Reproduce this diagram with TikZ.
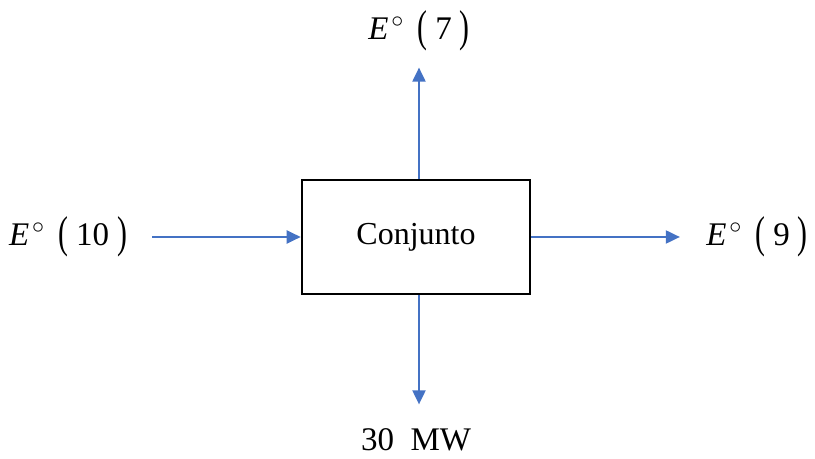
\documentclass[tikz,border=0pt]{standalone}
\usepackage{fontspec}
\setmainfont{Liberation Serif}
\usepackage{graphicx}
\usetikzlibrary{arrows.meta,positioning}
\definecolor{flowblue}{HTML}{4472C4}
\newcommand{\bpar}[1]{\raisebox{-1.2pt}{\scalebox{0.9}[1.35]{#1}}}
\newcommand{\Eo}[1]{\textit{E}\hspace{1.5pt}\raisebox{6pt}{\fontsize{13}{13}\selectfont$\circ$}\hspace{7pt}\bpar{(}\hspace{4pt}#1\hspace{4pt}\bpar{)}}

\begin{document}
\begin{tikzpicture}[x=0.5pt,y=-0.5pt,
  blk/.style={draw,line width=1.3pt,minimum width=114pt,minimum height=57pt,font=\fontsize{16}{19}\selectfont},
  lbl/.style={font=\fontsize{16.5}{19}\selectfont,inner sep=0pt},
  flow/.style={-{Triangle[length=7pt,width=6.5pt]},flowblue,line width=1pt}]
  \useasboundingbox (0,0) rectangle (815,459);
  \node[blk] (conj) at (416,237) {Conjunto};
  \node[lbl] (e10) at (68,237) {\Eo{10}};
  \node[lbl] (e9) at (757,237) {\Eo{9}};
  \node[lbl] (e7) at (419,31) {\Eo{7}};
  \node[lbl] (mw) at (416,440) {30\ \ MW};
  \draw[flow] ([xshift=12.5pt]e10.east) -- (conj.west);
  \draw[flow] (conj.east) -- ([xshift=-13pt]e9.west);
  \draw[flow] ([xshift=1.5pt]conj.north) -- ([xshift=1.5pt,yshift=-8pt]conj.north |- e7.south);
  \draw[flow] ([xshift=1.5pt]conj.south) -- ([xshift=1.5pt,yshift=12pt]conj.south |- mw.north);
\end{tikzpicture}
\end{document}
